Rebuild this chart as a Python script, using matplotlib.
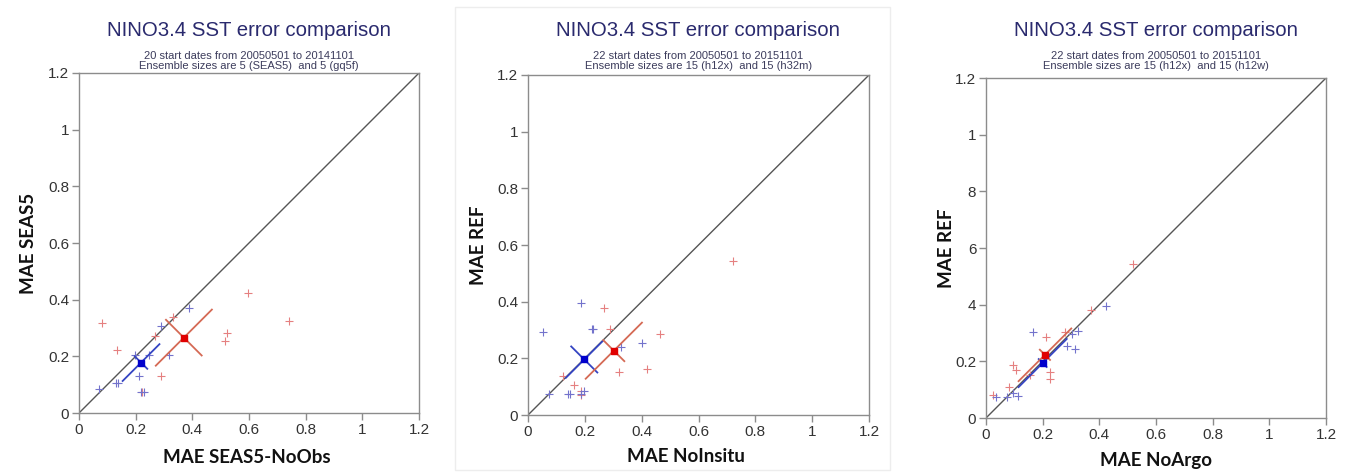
import numpy as np
import matplotlib
matplotlib.use("Agg")
import matplotlib.pyplot as plt
from matplotlib.patches import Rectangle

# ---------------- data ----------------
titles = ["NINO3.4 SST error comparison"] * 3
sub1 = ["20 start dates from 20050501 to 20141101",
        "22 start dates from 20050501 to 20151101",
        "22 start dates from 20050501 to 20151101"]
sub2 = ["Ensemble sizes are 5 (SEAS5)  and 5 (gq5f)",
        "Ensemble sizes are 15 (h12x)  and 15 (h32m)",
        "Ensemble sizes are 15 (h12x)  and 15 (h12w)"]
xlabels = ["MAE SEAS5-NoObs", "MAE NoInsitu", "MAE NoArgo"]
ylabels = ["MAE SEAS5", "MAE REF", "MAE REF"]

tick_vals = [0, 0.2, 0.4, 0.6, 0.8, 1.0, 1.2]
tick_labels = ["0", "0.2", "0.4", "0.6", "0.8", "1", "1.2"]
ytick_labels_p3 = ["0", "0.2", "4", "6", "8", "1", "1.2"]

# panel 1
p1_red_x = [0.082, 0.135, 0.268, 0.333, 0.291, 0.514, 0.521, 0.595, 0.741, 0.222]
p1_red_y = [0.319, 0.224, 0.272, 0.340, 0.131, 0.255, 0.283, 0.425, 0.325, 0.073]
p1_blue_x = [0.071, 0.129, 0.138, 0.197, 0.212, 0.218, 0.228, 0.247, 0.291, 0.318, 0.387]
p1_blue_y = [0.084, 0.106, 0.106, 0.205, 0.131, 0.075, 0.075, 0.205, 0.307, 0.205, 0.370]
# panel 2
p2_red_x = [0.720, 0.269, 0.288, 0.465, 0.418, 0.320, 0.124, 0.161, 0.186, 0.186]
p2_red_y = [0.542, 0.378, 0.302, 0.285, 0.162, 0.153, 0.136, 0.107, 0.072, 0.085]
p2_blue_x = [0.053, 0.185, 0.224, 0.229, 0.329, 0.402, 0.073, 0.141, 0.149, 0.188, 0.196]
p2_blue_y = [0.294, 0.394, 0.304, 0.304, 0.240, 0.253, 0.074, 0.074, 0.074, 0.074, 0.086]
# panel 3
p3_red_x = [0.520, 0.371, 0.278, 0.212, 0.096, 0.105, 0.082, 0.024, 0.226, 0.226, 0.155]
p3_red_y = [0.542, 0.380, 0.304, 0.285, 0.186, 0.171, 0.109, 0.082, 0.162, 0.136, 0.151]
p3_blue_x = [0.424, 0.165, 0.324, 0.302, 0.285, 0.314, 0.035, 0.075, 0.114, 0.096]
p3_blue_y = [0.394, 0.304, 0.306, 0.295, 0.254, 0.242, 0.074, 0.074, 0.078, 0.088]

red_x = [p1_red_x, p2_red_x, p3_red_x]
red_y = [p1_red_y, p2_red_y, p3_red_y]
blue_x = [p1_blue_x, p2_blue_x, p3_blue_x]
blue_y = [p1_blue_y, p2_blue_y, p3_blue_y]

# mean points and cross half-extents (along / across the 1:1 line)
red_mean_x = [0.370, 0.302, 0.208]
red_mean_y = [0.266, 0.227, 0.223]
blue_mean_x = [0.219, 0.198, 0.200]
blue_mean_y = [0.178, 0.196, 0.194]
red_along = [0.099, 0.099, 0.093]
red_across = [0.063, 0.037, 0.018]
blue_along = [0.065, 0.065, 0.085]
blue_across = [0.022, 0.046, 0.014]

# ---------------- figure ----------------
W, H = 1353, 473
fig = plt.figure(figsize=(W / 100, H / 100), dpi=100)
fig.patch.set_facecolor("white")

# faint screenshot borders
fig.add_artist(Rectangle((455 / W, 1 - 470 / H), (890 - 455) / W, (470 - 7) / H,
                         transform=fig.transFigure, fill=False,
                         edgecolor="#ededed", lw=1.0))

# axes rectangles in pixels: (x0, x1, ytop, ybottom)
rects = [(79, 419, 73, 413), (528, 869, 75, 415), (986, 1326, 78, 418)]
xlab_pos = [(247, 457), (686, 456), (1156, 460)]
ylab_x = [28, 478, 947]

title_col = "#2a2a6e"
sub_col = "#3c3c5c"
spine_col = "#8c8c8c"
tick_col = "#333333"
red_pt = "#e58080"
blue_pt = "#7373cc"
red_arm = "#d56a55"
blue_arm = "#3444c2"

for i in range(3):
    x0, x1, yt, yb = rects[i]
    ax = fig.add_axes([x0 / W, 1 - yb / H, (x1 - x0) / W, (yb - yt) / H])
    ax.set_xlim(0, 1.2)
    ax.set_ylim(0, 1.2)
    for s in ax.spines.values():
        s.set_color(spine_col)
        s.set_linewidth(1.0)
    ax.set_xticks(tick_vals)
    ax.set_xticklabels(tick_labels)
    ax.set_yticks(tick_vals)
    ax.set_yticklabels(ytick_labels_p3 if i == 2 else tick_labels)
    ax.tick_params(direction="out", length=5, width=1.0, color=spine_col,
                   labelsize=11, labelcolor=tick_col, pad=2)
    for lab in ax.get_xticklabels() + ax.get_yticklabels():
        lab.set_family("Liberation Sans")

    # 1:1 line
    ax.plot([0, 1.2], [0, 1.2], color="#555555", lw=1.0, zorder=1)

    # scatter points
    ax.plot(red_x[i], red_y[i], "+", color=red_pt, ms=6, mew=0.8, zorder=2)
    ax.plot(blue_x[i], blue_y[i], "+", color=blue_pt, ms=6, mew=0.8, zorder=2)

    # mean crosses
    for mx, my, al, ac, col, dot in [
        (blue_mean_x[i], blue_mean_y[i], blue_along[i], blue_across[i], blue_arm, "#0000cc"),
        (red_mean_x[i], red_mean_y[i], red_along[i], red_across[i], red_arm, "#e00000"),
    ]:
        ax.plot([mx - al, mx + al], [my - al, my + al], color=col, lw=1.3, zorder=3)
        ax.plot([mx - ac, mx + ac], [my + ac, my - ac], color=col, lw=1.3, zorder=3)
        ax.plot([mx], [my], "s", color=dot, ms=4, zorder=4)

    cx = (x0 + x1) / 2 / W
    fig.text(cx, 1 - 30 / H, titles[i], ha="center", va="center",
             fontsize=14.7, color=title_col, family="Liberation Sans")
    fig.text(cx, 1 - 56 / H, sub1[i], ha="center", va="center",
             fontsize=8, color=sub_col, family="Liberation Sans")
    fig.text(cx, 1 - 66 / H, sub2[i], ha="center", va="center",
             fontsize=8, color=sub_col, family="Liberation Sans")

    fig.text(xlab_pos[i][0] / W, 1 - xlab_pos[i][1] / H, xlabels[i],
             ha="center", va="center", fontsize=13.5, fontweight="bold",
             color="#111111", family="Lato")
    fig.text(ylab_x[i] / W, 1 - ((yt + yb) / 2) / H, ylabels[i], rotation=90,
             ha="center", va="center", fontsize=13.5, fontweight="bold",
             color="#111111", family="Lato")

fig.savefig("out.png", dpi=100, facecolor="white")
